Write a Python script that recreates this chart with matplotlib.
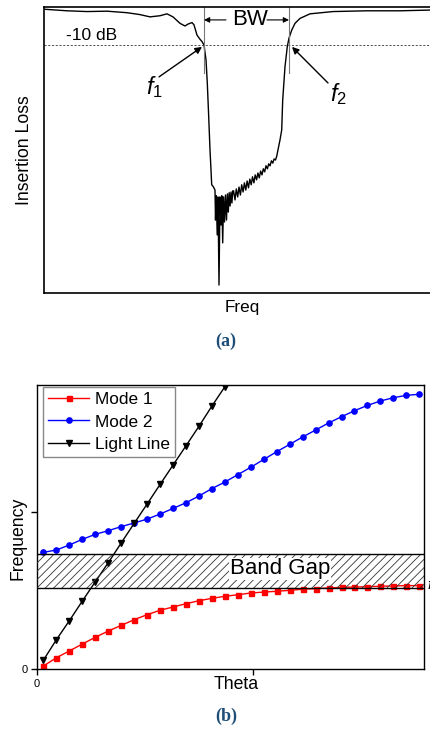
import matplotlib
matplotlib.use("Agg")
import matplotlib.pyplot as plt

plt.rcParams["font.family"] = ["Liberation Sans", "DejaVu Sans"]
plt.rcParams["mathtext.fontset"] = "custom"
plt.rcParams["mathtext.it"] = "Liberation Sans:italic"
plt.rcParams["mathtext.rm"] = "Liberation Sans"
plt.rcParams["hatch.linewidth"] = 0.6

# ---------------- (a) insertion loss of the filter ----------------
freq = [0.1, 2.3, 4.3, 6.3, 8.3, 9.6, 10.6, 11.6, 12.3, 12.9, 13.6, 14.1, 14.4,
        14.8, 15.0, 15.3, 15.6, 15.8, 16.0, 16.2, 16.33, 16.47, 16.6, 16.7, 16.77,
        16.93, 17.1, 17.15, 17.23, 17.32, 17.4, 17.5, 17.6, 17.7, 17.78, 17.87,
        17.96, 18.05, 18.15, 18.25, 18.34, 18.43, 18.52, 18.61, 18.7, 18.79, 18.88,
        18.96, 19.10, 19.23, 19.37, 19.50, 19.64, 19.77, 19.91, 20.04, 20.18, 20.31,
        20.45, 20.58, 20.72, 20.85, 20.99, 21.12, 21.26, 21.39, 21.53, 21.66, 21.80,
        21.93, 22.07, 22.20, 22.34, 22.47, 22.61, 22.74, 22.88, 23.01, 23.15, 23.28,
        23.4, 23.6, 23.77, 23.87, 24.1, 24.33, 24.5, 24.77, 25.1, 25.6, 26.6, 28.9,
        32.27, 35.6, 38.7, 39.6]
loss_db = [-0.6, -1.0, -1.2, -1.1, -1.5, -2.0, -2.6, -2.3, -1.8, -2.6, -4.3, -5.0, -4.5,
           -4.1, -4.7, -7.4, -8.5, -9.1, -10.0, -13.9, -20.0, -28.9, -37.6, -42.9, -46.8,
           -47.3, -48.2, -56.1, -49.7, -60.0, -50.0, -73.2, -50.0, -57.4, -49.7, -62.1,
           -50.0, -56.6, -49.5, -56.1, -49.2, -54.0, -48.9, -52.4, -48.7, -51.6, -48.4,
           -48.4, -50.8, -47.9, -50.0, -47.4, -49.5, -46.8, -48.7, -46.3, -48.2, -45.8,
           -47.6, -45.3, -46.8, -44.7, -46.3, -44.2, -45.5, -43.7, -45.0, -43.2, -44.2,
           -42.6, -43.4, -41.8, -42.6, -41.3, -41.8, -40.5, -41.1, -40.0, -40.3, -39.2,
           -37.6, -35.0, -32.4, -24.5, -15.7, -10.4, -8.2, -6.1, -4.3, -3.0, -1.8, -1.2,
           -1.0, -1.0, -0.8, -0.7]
ref_level = -10.0
f_lower, f_upper = 16.0, 24.5

# ---------------- (b) dispersion diagram ----------------
theta = [0.03, 0.09, 0.15, 0.21, 0.27, 0.33, 0.39, 0.45, 0.51, 0.57, 0.63, 0.69,
         0.75, 0.81, 0.87, 0.93, 0.99, 1.05, 1.11, 1.17, 1.23, 1.29, 1.35, 1.41,
         1.47, 1.53, 1.59, 1.65, 1.71, 1.77]
mode1 = [0.019, 0.072, 0.115, 0.159, 0.202, 0.242, 0.278, 0.314, 0.346, 0.374,
         0.395, 0.416, 0.435, 0.450, 0.463, 0.473, 0.484, 0.490, 0.495, 0.501,
         0.508, 0.512, 0.516, 0.520, 0.522, 0.524, 0.527, 0.529, 0.531, 0.531]
mode2 = [0.743, 0.758, 0.790, 0.826, 0.858, 0.881, 0.907, 0.930, 0.955, 0.987,
         1.023, 1.059, 1.102, 1.149, 1.191, 1.238, 1.285, 1.335, 1.384, 1.431,
         1.478, 1.522, 1.567, 1.607, 1.645, 1.679, 1.707, 1.728, 1.743, 1.750]
light_line = [0.057, 0.187, 0.308, 0.433, 0.556, 0.677, 0.803, 0.928, 1.051,
              1.176, 1.299, 1.422, 1.546, 1.675, 1.798]
gap_low, gap_high = 0.514, 0.732

W, H = 431, 737
fig = plt.figure(figsize=(W / 100, H / 100), dpi=100)


def box(l, t, r, b):
    return [l / W, 1 - b / H, (r - l) / W, (b - t) / H]


# panel (a)
ax1 = fig.add_axes(box(44, 7, 440, 293))
ax1.plot(freq, loss_db, color="black", lw=1.0)
ax1.set_xlim(0, 39.6)
ax1.set_ylim(-75.3, 0)
ax1.axhline(ref_level, color="#333333", lw=0.6, ls=(0, (2.5, 2)))
for fb in (f_lower, f_upper):
    ax1.plot([fb, fb], [0, -17.4], color="#777777", lw=0.8)
ax1.set_xticks([])
ax1.set_yticks([])
for s in ("left", "bottom", "top"):
    ax1.spines[s].set_linewidth(1.2)
ax1.spines["right"].set_visible(False)
ax1.set_ylabel("Insertion Loss", fontsize=12.7, labelpad=8)
ax1.set_xlabel("Freq", fontsize=12.3, labelpad=5)
ax1.text(2.2, -7.4, "-10 dB", fontsize=12.5, va="center", ha="left")
ax1.text(20.6, -3.4, "BW", fontsize=16, va="center", ha="center")
arr = dict(arrowstyle="-|>", color="black", lw=0.8, mutation_scale=8, shrinkA=0, shrinkB=0)
ax1.annotate("", xy=(f_lower, -3.4), xytext=(18.2, -3.4), arrowprops=arr)
ax1.annotate("", xy=(f_upper, -3.4), xytext=(22.3, -3.4), arrowprops=arr)
arr2 = dict(arrowstyle="-|>", color="black", lw=1.0, mutation_scale=10, shrinkA=0, shrinkB=0)
ax1.annotate("", xy=(15.8, -10.5), xytext=(11.5, -18.4), arrowprops=arr2)
ax1.annotate("", xy=(24.8, -10.5), xytext=(28.4, -20.0), arrowprops=arr2)
ax1.text(11.0, -21.0, r"$f_{\mathit{1}}$", fontsize=17, ha="center", va="center")
ax1.text(29.4, -22.8, r"$f_{\mathit{2}}$", fontsize=17, ha="center", va="center")

fig.text(226 / W, 1 - 341 / H, "(a)", family="Liberation Serif", weight="bold",
         fontsize=13, color="#1f4e79", ha="center", va="center")

# panel (b)
ax2 = fig.add_axes(box(37, 385, 424, 669))
ax2.axhspan(gap_low, gap_high, facecolor="none", edgecolor="#333333", hatch="////",
            lw=0, zorder=3)
ax2.axhline(gap_low, color="black", lw=1.0, zorder=3)
ax2.axhline(gap_high, color="black", lw=1.0, zorder=3)
ax2.plot(theta, mode1, color="#ff0000", marker="s", ms=3.6, lw=1.0, label="Mode 1", zorder=2)
ax2.plot(theta, mode2, color="#0000ff", marker="o", ms=3.8, lw=1.0, label="Mode 2", zorder=2)
ax2.plot(theta[:len(light_line)], light_line, color="black", marker="v", ms=4.2, lw=1.0,
         label="Light Line", zorder=2)
ax2.set_xlim(0, 1.792)
ax2.set_ylim(0, 1.809)
ax2.set_xticks([0, 1])
ax2.set_xticklabels(["0", ""])
ax2.set_yticks([0, 1])
ax2.set_yticklabels(["0", ""])
ax2.tick_params(direction="out", length=4, width=1, labelsize=8, pad=3)
for s in ax2.spines.values():
    s.set_linewidth(1.0)
ax2.set_xlabel("Theta", fontsize=12.7)
ax2.set_ylabel("Frequency", fontsize=12.7)
ax2.xaxis.set_label_coords(0.514, -0.026)
ax2.yaxis.set_label_coords(-0.028, 0.461)
ax2.text(1.125, 0.637, "Band Gap", fontsize=16, ha="center", va="center", zorder=4,
         bbox=dict(facecolor="white", edgecolor="none", pad=0.5))
ax2.text(1.806, 0.535, "f", fontsize=11, style="italic", ha="left", va="center",
         clip_on=False)
leg = ax2.legend(loc="upper left", bbox_to_anchor=(43 / W, 1 - 387 / H),
                 bbox_transform=fig.transFigure, borderaxespad=0, fontsize=12.4,
                 fancybox=False, edgecolor="#888888", framealpha=1,
                 handlelength=2.4, handletextpad=0.3, labelspacing=0.42,
                 borderpad=0.3)
leg.get_frame().set_linewidth(1.0)

fig.text(226 / W, 1 - 716 / H, "(b)", family="Liberation Serif", weight="bold",
         fontsize=13, color="#1f4e79", ha="center", va="center")

fig.savefig("out.png", dpi=100)
